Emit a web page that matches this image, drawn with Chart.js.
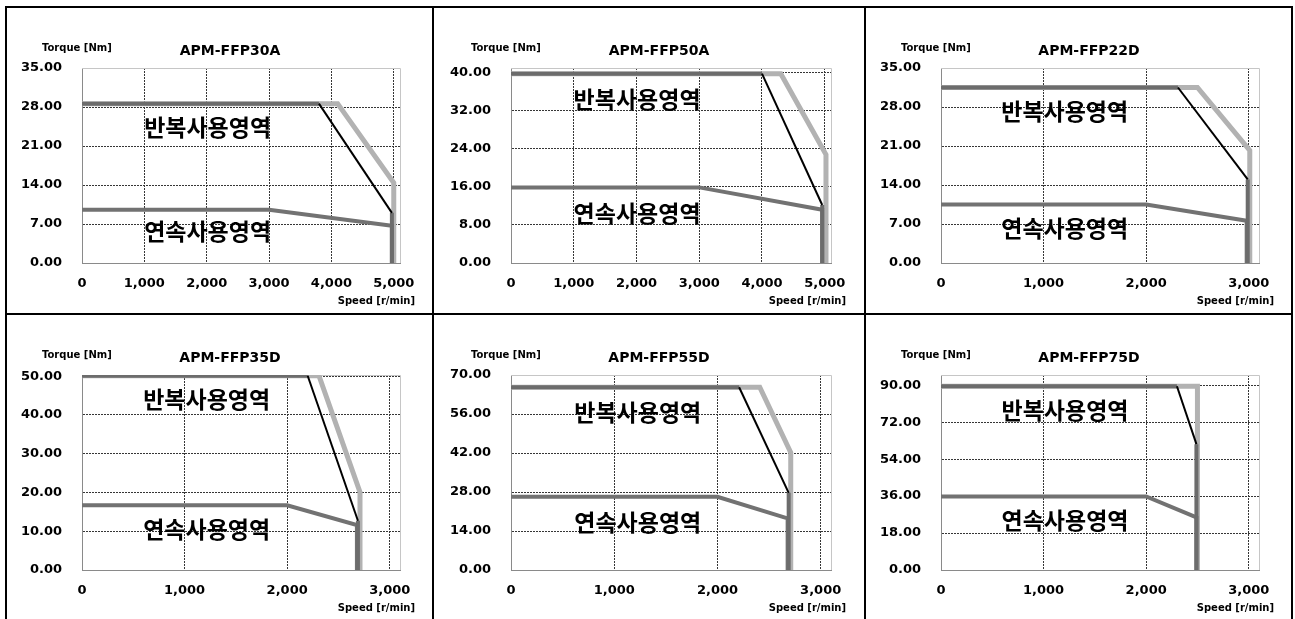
<!DOCTYPE html>
<html lang="ko">
<head>
<meta charset="UTF-8">
<title>APM-FFP 속도-토크 특성</title>
<script src="https://cdn.jsdelivr.net/npm/chart.js"></script>
<style>
    body {
        margin: 0;
        background: #fff;
        width: 1295px;
        height: 619px;
        overflow: hidden;
        position: relative;
    }
    .panel {
        position: absolute;
        box-sizing: border-box;
        border: 2px solid #000;
        background: #fff;
    }
    .panel canvas {
        position: absolute;
        left: 0;
        top: 0;
    }
</style>
</head>
<body>
    <div class="panel" style="left:5px;top:6px;width:429px;height:309px"><canvas id="c0" width="425" height="305"></canvas></div>
    <div class="panel" style="left:432px;top:6px;width:434px;height:309px"><canvas id="c1" width="430" height="305"></canvas></div>
    <div class="panel" style="left:864px;top:6px;width:429px;height:309px"><canvas id="c2" width="425" height="305"></canvas></div>
    <div class="panel" style="left:5px;top:313px;width:429px;height:327px"><canvas id="c3" width="425" height="305"></canvas></div>
    <div class="panel" style="left:432px;top:313px;width:434px;height:327px"><canvas id="c4" width="430" height="305"></canvas></div>
    <div class="panel" style="left:864px;top:313px;width:429px;height:327px"><canvas id="c5" width="425" height="305"></canvas></div>

<script>
// ---- data ----
const models = ['APM-FFP30A', 'APM-FFP50A', 'APM-FFP22D', 'APM-FFP35D', 'APM-FFP55D', 'APM-FFP75D'];
const speedMax = [5100, 5100, 3100, 3100, 3100, 3100];
const speedTicks = [
    [0, 1000, 2000, 3000, 4000, 5000],
    [0, 1000, 2000, 3000, 4000, 5000],
    [0, 1000, 2000, 3000],
    [0, 1000, 2000, 3000],
    [0, 1000, 2000, 3000],
    [0, 1000, 2000, 3000]
];
const torqueMax = [35, 41, 35, 50.3, 70, 95];
const torqueTicks = [
    [0, 7, 14, 21, 28, 35],
    [0, 8, 16, 24, 32, 40],
    [0, 7, 14, 21, 28, 35],
    [0, 10, 20, 30, 40, 50],
    [0, 14, 28, 42, 56, 70],
    [0, 18, 36, 54, 72, 90]
];

// light grey outline (repetitive zone, outer limit)
const peakOuter = [
    [[0, 28.6], [4100, 28.6], [5000, 14.4], [5000, 0]],
    [[0, 39.8], [4300, 39.8], [5020, 22.8], [5020, 0]],
    [[0, 31.5], [2500, 31.5], [3010, 20.2], [3010, 0]],
    [[0, 50.1], [2310, 50.1], [2710, 20.1], [2710, 0]],
    [[0, 65.6], [2410, 65.6], [2710, 42.2], [2710, 0]],
    [[0, 89.5], [2500, 89.5], [2500, 0]]
];
// dark grey flat part of repetitive zone
const peakFlat = [
    [[0, 28.6], [3800, 28.6]],
    [[0, 39.8], [4000, 39.8]],
    [[0, 31.5], [2310, 31.5]],
    [[0, 50.1], [2200, 50.1]],
    [[0, 65.6], [2210, 65.6]],
    [[0, 89.5], [2300, 89.5]]
];
// black drop line
const peakDrop = [
    [[3800, 28.6], [4970, 9.0]],
    [[4000, 39.8], [4960, 12.2]],
    [[2310, 31.5], [2990, 15.0]],
    [[2200, 50.1], [2690, 12.7]],
    [[2210, 65.6], [2690, 27.7]],
    [[2300, 89.5], [2490, 61.3]]
];
// dark grey vertical cut at max speed
const peakCut = [
    [[4970, 9.0], [4970, 0]],
    [[4960, 12.2], [4960, 0]],
    [[2990, 15.0], [2990, 0]],
    [[2690, 12.7], [2690, 0]],
    [[2690, 27.7], [2690, 0]],
    [[2490, 61.3], [2490, 0]]
];
// continuous zone
const continuous = [
    [[0, 9.55], [3000, 9.55], [4970, 6.7], [4970, 0]],
    [[0, 15.9], [3000, 15.9], [4960, 11.2], [4960, 0]],
    [[0, 10.5], [2000, 10.5], [2980, 7.6], [2980, 0]],
    [[0, 16.7], [2000, 16.7], [2680, 11.6], [2680, 0]],
    [[0, 26.3], [2000, 26.3], [2680, 18.5], [2680, 0]],
    [[0, 35.8], [2000, 35.8], [2490, 25.6], [2490, 0]]
];

// zone label placement, as fractions of the plot area [x, yRepeat, yCont]
const zoneLabelAt = [
    [0.395, 0.306, 0.836],
    [0.394, 0.160, 0.746],
    [0.389, 0.224, 0.822],
    [0.392, 0.127, 0.789],
    [0.396, 0.192, 0.754],
    [0.390, 0.179, 0.743]
];

const LATIN = "'DejaVu Sans', sans-serif";
const HANGUL = "'Noto Sans CJK KR', 'DejaVu Sans', sans-serif";

function pts(arr) {
    return arr.map(p => ({ x: p[0], y: p[1] }));
}

// frame on top/right plus the texts around the plot
const panelText = {
    id: 'panelText',
    beforeDatasetsDraw(chart) {
        const ctx = chart.ctx, a = chart.chartArea;
        ctx.save();
        ctx.strokeStyle = '#c6c6c6';
        ctx.lineWidth = 1;
        ctx.beginPath();
        ctx.moveTo(a.left, a.top + 0.5);
        ctx.lineTo(a.right + 0.5, a.top + 0.5);
        ctx.lineTo(a.right + 0.5, a.bottom);
        ctx.stroke();
        ctx.restore();
    },
    afterDraw(chart, args, opts) {
        const ctx = chart.ctx, a = chart.chartArea;
        const w = a.right - a.left, h = a.bottom - a.top;
        ctx.save();
        ctx.fillStyle = '#000';
        ctx.textBaseline = 'middle';

        ctx.font = 'bold 14px ' + LATIN;
        ctx.textAlign = 'center';
        ctx.fillText(opts.model, a.left + 148, a.top - 17);

        ctx.font = 'bold 10px ' + LATIN;
        ctx.textAlign = 'left';
        ctx.fillText('Torque [Nm]', a.left - 40, a.top - 20);
        ctx.textAlign = 'right';
        ctx.fillText('Speed [r/min]', a.right + 15, a.bottom + 38);

        ctx.font = 'bold 23px ' + HANGUL;
        ctx.textAlign = 'center';
        ctx.fillText('반복사용영역', a.left + opts.at[0] * w, a.top + opts.at[1] * h);
        ctx.fillText('연속사용영역', a.left + opts.at[0] * w, a.top + opts.at[2] * h);
        ctx.restore();
    }
};

function line(data, color, width) {
    return {
        data: pts(data),
        showLine: true,
        borderColor: color,
        backgroundColor: color,
        borderWidth: width,
        pointRadius: 0,
        tension: 0,
        fill: false,
        borderJoinStyle: 'miter'
    };
}

Chart.defaults.font.family = LATIN;
Chart.defaults.font.weight = 'bold';
Chart.defaults.font.size = 13;
Chart.defaults.color = '#000';

models.forEach(function(model, i) {
    const wide = (i % 3 === 1);
    new Chart(document.getElementById('c' + i), {
        type: 'scatter',
        data: {
            // first dataset is drawn on top
            datasets: [
                line(peakDrop[i], '#000000', 2),
                line(peakFlat[i], '#6c6c6c', 4),
                line(peakCut[i], '#6c6c6c', 4),
                line(continuous[i], '#727272', 4),
                line(peakOuter[i], '#b2b2b2', 5)
            ]
        },
        options: {
            responsive: false,
            animation: false,
            events: [],
            layout: {
                padding: { top: 60, right: wide ? 33 : 32, bottom: 0, left: 0 }
            },
            plugins: {
                legend: { display: false },
                tooltip: { enabled: false },
                panelText: { model: model, at: zoneLabelAt[i] }
            },
            scales: {
                x: {
                    type: 'linear',
                    min: 0,
                    max: speedMax[i],
                    afterBuildTicks: function(scale) {
                        scale.ticks = speedTicks[i].map(v => ({ value: v }));
                    },
                    afterFit: function(scale) { scale.height = 50; },
                    ticks: {
                        padding: 13,
                        maxRotation: 0,
                        callback: v => v.toLocaleString('en-US')
                    },
                    grid: { color: '#363636', lineWidth: 1, drawTicks: false },
                    border: { color: '#8a8a8a', width: 1, dash: [2, 1] }
                },
                y: {
                    type: 'linear',
                    min: 0,
                    max: torqueMax[i],
                    afterBuildTicks: function(scale) {
                        scale.ticks = torqueTicks[i].map(v => ({ value: v }));
                    },
                    afterFit: function(scale) { scale.width = wide ? 77 : 75; },
                    ticks: {
                        padding: 20,
                        callback: v => v.toFixed(2)
                    },
                    grid: { color: '#363636', lineWidth: 1, drawTicks: false },
                    border: { color: '#8a8a8a', width: 1, dash: [2, 1] }
                }
            }
        },
        plugins: [panelText]
    });
});
</script>
</body>
</html>
